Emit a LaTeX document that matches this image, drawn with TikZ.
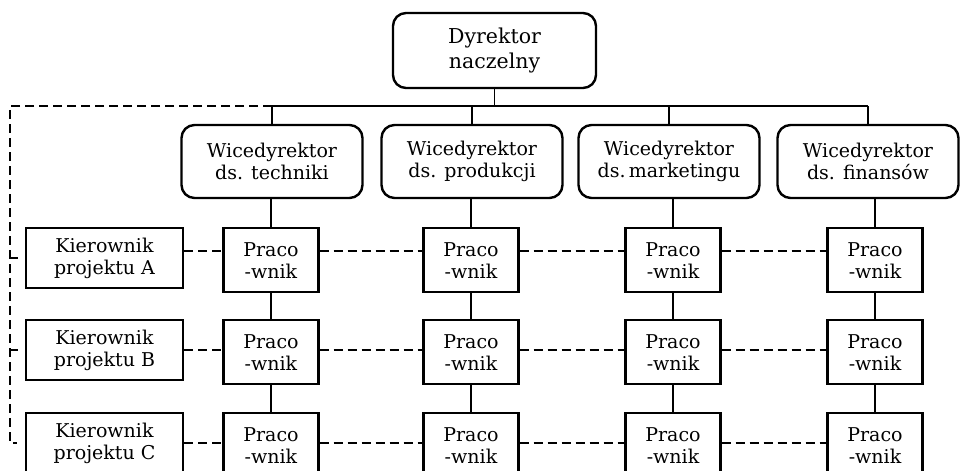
\documentclass[tikz,border=0pt]{standalone}
\usepackage{fontspec}
\setmainfont{DejaVu Serif}
\usepackage{tikz}
\usetikzlibrary{calc}
\tikzset{
	szef/.style={draw, line width=2.4pt, rounded corners=13pt, align=center, inner sep=0pt},
	kier/.style={draw, line width=2.4pt, align=center, inner sep=0pt, minimum width=157pt, minimum height=60pt, anchor=north},
	prac/.style={draw, line width=2.4pt, align=center, inner sep=0pt, minimum width=95pt, minimum height=64pt, anchor=north},
	linia/.style={line width=1.4pt},
	proj/.style={line width=2.2pt, dash pattern=on 9pt off 5pt}
}

\begin{document}
\begin{tikzpicture}[x=1pt, y=-1pt, font=\fontsize{19}{22}\selectfont]
		%%%%% START %%%%%
		\clip (0, 0) rectangle (967, 471);
		
		\node[szef, minimum width=203pt, minimum height=75pt, font=\fontsize{20.5}{25}\selectfont] (dyr) at (494.5, 50.5) {Dyrektor\\naczelny};
		
		\node[szef, minimum width=181pt, minimum height=73pt] (vp1) at (272, 161.5) {Wicedyrektor\\ds. techniki};
		\node[szef, minimum width=181pt, minimum height=73pt] (vp2) at (472, 161.5) {Wicedyrektor\\ds. produkcji};
		\node[szef, minimum width=181pt, minimum height=73pt] (vp3) at (669, 161.5) {Wicedyrektor\\ds.\,marketingu};
		\node[szef, minimum width=181pt, minimum height=73pt] (vp4) at (868, 161.5) {Wicedyrektor\\ds. finansów};
		
		\coordinate (szyna) at (0, 106);
		\draw[linia] (dyr.south) -- (dyr.south |- szyna);
		\draw[linia] (vp1.north |- szyna) -- (vp4.north |- szyna);
		\draw[linia] (vp1.north) -- (vp1.north |- szyna);
		\draw[linia] (vp2.north) -- (vp2.north |- szyna);
		\draw[linia] (vp3.north) -- (vp3.north |- szyna);
		\draw[linia] (vp4.north) -- (vp4.north |- szyna);
		
		\node[kier] (kA) at (104.5, 227) {Kierownik\\projektu A};
		\node[kier] (kB) at (104.5, 319) {Kierownik\\projektu B};
		\node[kier] (kC) at (104.5, 412) {Kierownik\\projektu C};
		
		\node[prac] (p11) at (271, 227) {Praco\\-wnik};
		\node[prac] (p12) at (471, 227) {Praco\\-wnik};
		\node[prac] (p13) at (673, 227) {Praco\\-wnik};
		\node[prac] (p14) at (875, 227) {Praco\\-wnik};
		
		\node[prac] (p21) at (271, 319) {Praco\\-wnik};
		\node[prac] (p22) at (471, 319) {Praco\\-wnik};
		\node[prac] (p23) at (673, 319) {Praco\\-wnik};
		\node[prac] (p24) at (875, 319) {Praco\\-wnik};
		
		\node[prac] (p31) at (271, 412) {Praco\\-wnik};
		\node[prac] (p32) at (471, 412) {Praco\\-wnik};
		\node[prac] (p33) at (673, 412) {Praco\\-wnik};
		\node[prac] (p34) at (875, 412) {Praco\\-wnik};
		
		\draw[linia] (vp1.south -| p11.north) -- (p11.north);
		\draw[linia] (vp2.south -| p12.north) -- (p12.north);
		\draw[linia] (vp3.south -| p13.north) -- (p13.north);
		\draw[linia] (vp4.south -| p14.north) -- (p14.north);
		\draw[linia] (p11.south) -- (p21.north);
		\draw[linia] (p12.south) -- (p22.north);
		\draw[linia] (p13.south) -- (p23.north);
		\draw[linia] (p14.south) -- (p24.north);
		\draw[linia] (p21.south) -- (p31.north);
		\draw[linia] (p22.south) -- (p32.north);
		\draw[linia] (p23.south) -- (p33.north);
		\draw[linia] (p24.south) -- (p34.north);
		
		\coordinate (rA) at ($(kA.east)+(0,-7)$);
		\draw[proj] (rA) -- (rA -| p11.west);
		\draw[proj] (rA -| p11.east) -- (rA -| p12.west);
		\draw[proj] (rA -| p12.east) -- (rA -| p13.west);
		\draw[proj] (rA -| p13.east) -- (rA -| p14.west);
		
		\draw[proj] (kB.east) -- (kB.east -| p21.west);
		\draw[proj] (kB.east -| p21.east) -- (kB.east -| p22.west);
		\draw[proj] (kB.east -| p22.east) -- (kB.east -| p23.west);
		\draw[proj] (kB.east -| p23.east) -- (kB.east -| p24.west);
		
		\draw[proj] (kC.east) -- (kC.east -| p31.west);
		\draw[proj] (kC.east -| p31.east) -- (kC.east -| p32.west);
		\draw[proj] (kC.east -| p32.east) -- (kC.east -| p33.west);
		\draw[proj] (kC.east -| p33.east) -- (kC.east -| p34.west);
		
		\coordinate (lewy) at (10, 106);
		\draw[proj] (vp1.north |- szyna) -- (lewy) |- ($(kC.west)+(-8,0)$);
		\draw[proj] (lewy |- kA.west) -- ++(8, 0);
		\draw[proj] (lewy |- kB.west) -- ++(8, 0);
		%%%%% END %%%%%
	\end{tikzpicture}
\end{document}
